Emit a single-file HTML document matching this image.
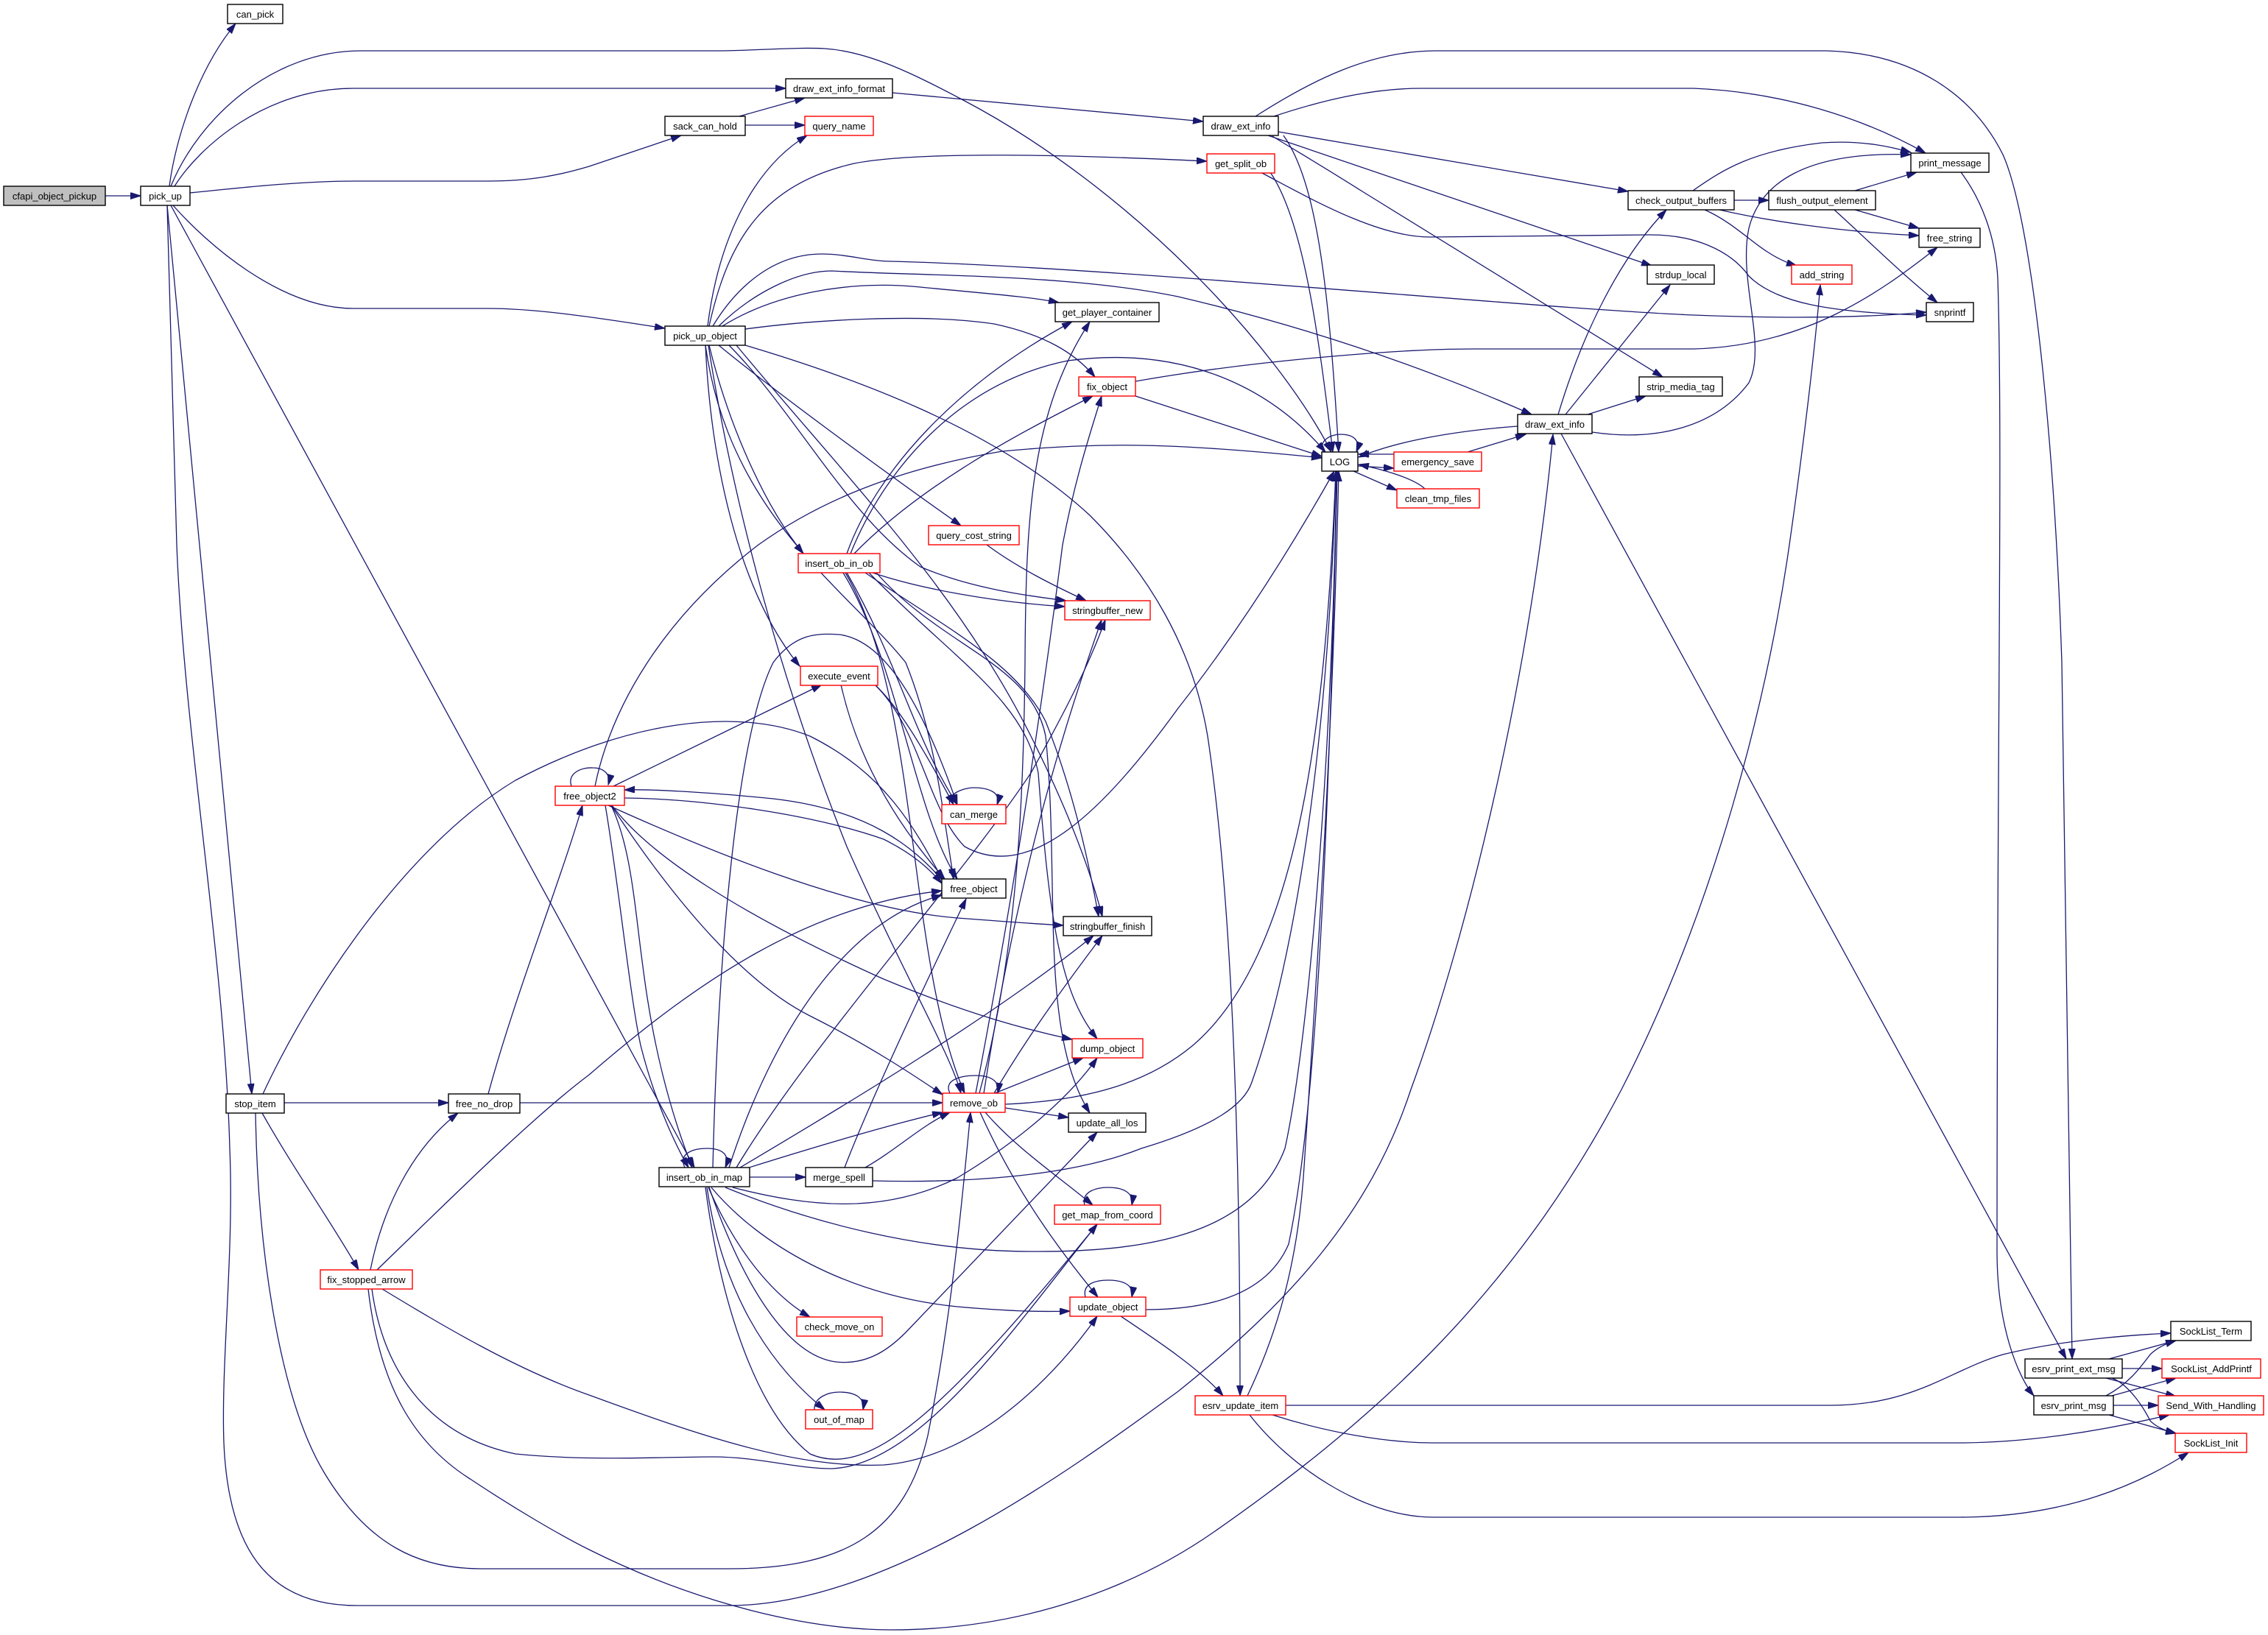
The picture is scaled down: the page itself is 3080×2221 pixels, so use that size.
<!DOCTYPE html>
<html>
<head>
<meta charset="utf-8">
<style>
html,body{margin:0;padding:0;background:#fff;}
svg{display:block;}
.n rect{fill:#fff;stroke:#000;stroke-width:1.4;}
.n.r rect{stroke:#ff0000;}
.n.g rect{fill:#bfbfbf;}
.n text{font-family:"Liberation Sans",Arial,sans-serif;font-size:13px;fill:#000;text-anchor:middle;}
.e path{fill:none;stroke:#191970;stroke-width:1.3;marker-end:url(#ah);}
</style>
</head>
<body>
<svg width="3080" height="2221" viewBox="0 0 3080 2221" xmlns="http://www.w3.org/2000/svg">
<defs>
<marker id="ah" markerUnits="userSpaceOnUse" markerWidth="15" markerHeight="10" refX="14" refY="4.5" orient="auto">
<path d="M0,0 L14,4.5 L0,9 z" fill="#191970" stroke="#191970" stroke-width="1"/>
</marker>
</defs>
<rect x="0" y="0" width="3080" height="2221" fill="#fff"/>
<g class="e">
<path d="M143,266 L191,266"/>
<path d="M230,253 C238,190 268,95 320,32"/>
<path d="M232,253 C270,160 370,69 490,69 L980,69 C1040,68 1080,64 1120,66 C1180,70 1240,100 1310,137 C1420,195 1530,280 1620,370 C1700,450 1770,540 1808,614"/>
<path d="M237,253 C270,200 360,120 480,120 L1067,120"/>
<path d="M258,262 C300,258 400,246 480,246 L663,246 C720,246 760,238 800,226 L925,184"/>
<path d="M235,279 C280,330 380,419 480,419 L663,419 C720,419 790,428 903,446"/>
<path d="M232,279 L943,1586"/>
<path d="M227,279 L342,1486"/>
<path d="M227,279 L240,740 C250,1000 305,1300 312,1560 C318,1700 300,1850 304,1960 C310,2100 360,2181 485,2181 L990,2181 C1200,2181 1450,2000 1600,1890 C1750,1770 1860,1650 1916,1480 C2000,1250 2080,900 2109,590"/>
<path d="M1012,170 L1093,170"/>
<path d="M1004,158 L1093,133"/>
<path d="M1212,126 L1634,165"/>
<path d="M961,443 C975,330 1020,230 1096,184"/>
<path d="M963,443 C990,320 1040,250 1160,222 C1250,205 1450,210 1639,219"/>
<path d="M968,443 C1000,390 1050,345 1116,345 C1150,345 1180,355 1210,355 C1500,362 2100,420 2300,428 C2450,434 2550,430 2616,424"/>
<path d="M976,443 C1020,400 1080,368 1130,368 C1250,375 1450,372 1600,403 C1800,450 1960,510 2080,563"/>
<path d="M981,443 C1050,400 1150,380 1250,390 C1330,398 1400,403 1438,411"/>
<path d="M1012,447 C1100,435 1250,425 1350,440 C1420,455 1460,480 1487,512"/>
<path d="M1012,469 C1150,510 1350,580 1480,700 C1560,780 1620,880 1640,1000 C1670,1200 1684,1500 1684,1896"/>
<path d="M976,469 C1050,530 1200,640 1305,714"/>
<path d="M963,469 C990,580 1040,690 1091,752"/>
<path d="M958,469 C965,620 1000,800 1086,905"/>
<path d="M958,469 C990,700 1150,800 1230,900 C1270,1000 1280,1100 1295,1194"/>
<path d="M962,469 C990,650 1050,900 1150,1150 C1230,1330 1290,1430 1305,1485"/>
<path d="M990,469 C1080,560 1150,700 1250,770 C1320,800 1400,810 1448,816"/>
<path d="M1000,469 C1150,650 1300,800 1400,1000 C1450,1100 1480,1180 1497,1245"/>
<path d="M1150,752 C1190,640 1300,520 1456,437"/>
<path d="M1160,752 C1250,660 1380,590 1484,538"/>
<path d="M1155,752 C1200,640 1300,520 1450,490 C1600,470 1720,520 1800,614"/>
<path d="M1185,778 C1250,800 1350,818 1446,824"/>
<path d="M1150,778 C1220,900 1240,1000 1300,1093"/>
<path d="M1145,778 C1220,900 1240,1100 1300,1194"/>
<path d="M1148,778 C1250,950 1230,1300 1310,1485"/>
<path d="M1190,778 C1280,880 1400,900 1420,1000 C1440,1200 1410,1400 1480,1512"/>
<path d="M1180,778 C1300,900 1390,950 1410,1050 C1425,1250 1440,1350 1490,1411"/>
<path d="M1175,778 C1280,850 1380,900 1420,980 C1460,1080 1480,1180 1492,1245"/>
<path d="M808,1068 C830,960 900,840 1030,740 C1100,690 1200,640 1361,613 C1500,600 1600,602 1795,622"/>
<path d="M833,1068 L1116,930"/>
<path d="M776,1068 C770,1050 790,1042 805,1043 C820,1043 830,1052 826,1066"/>
<path d="M848,1084 C950,1085 1100,1105 1200,1140 C1240,1160 1262,1180 1279,1200"/>
<path d="M1280,1196 C1240,1150 1180,1100 1050,1085 C950,1075 880,1072 848,1073"/>
<path d="M826,1094 C950,1150 1150,1235 1300,1247 C1380,1253 1420,1256 1444,1257"/>
<path d="M831,1094 C880,1160 1000,1240 1200,1330 C1320,1380 1400,1400 1456,1412"/>
<path d="M830,1094 C900,1200 1000,1330 1100,1380 C1180,1420 1240,1460 1280,1487"/>
<path d="M830,1094 C870,1180 860,1300 900,1460 C915,1520 930,1560 940,1586"/>
<path d="M822,1094 C840,1200 855,1350 870,1420 C890,1500 920,1560 935,1586"/>
<path d="M663,1486 C700,1350 760,1200 791,1094"/>
<path d="M503,1725 C520,1640 560,1560 622,1512"/>
<path d="M512,1725 C600,1640 720,1520 800,1460 C950,1330 1100,1230 1279,1210"/>
<path d="M519,1751 C600,1800 700,1860 800,1895 C950,1950 1080,1995 1200,1990 C1330,1980 1440,1860 1490,1788"/>
<path d="M505,1751 C520,1860 580,1950 700,1975 C800,1985 900,1979 968,1979 C1030,1979 1080,1995 1130,1995 C1250,1990 1380,1800 1490,1663"/>
<path d="M500,1751 C515,1880 560,1960 640,2010 C700,2050 760,2085 800,2105 C950,2180 1100,2214 1210,2214 C1400,2214 1550,2150 1650,2080 C1850,1940 2050,1770 2202,1480 C2330,1230 2400,950 2430,740 C2450,600 2465,470 2472,387"/>
<path d="M386,1498 L609,1498"/>
<path d="M356,1512 C400,1590 450,1660 487,1725"/>
<path d="M347,1512 C350,1700 380,1900 440,2000 C500,2100 570,2131 653,2131 L990,2131 C1150,2131 1230,2080 1260,1950 C1290,1800 1305,1650 1318,1511"/>
<path d="M357,1486 C420,1350 550,1150 700,1060 C850,980 1000,960 1100,1000 C1200,1050 1240,1120 1280,1195"/>
<path d="M706,1498 L1280,1498"/>
<path d="M930,1586 C920,1565 945,1560 960,1560 C980,1560 992,1568 985,1586"/>
<path d="M1018,1599 L1094,1599"/>
<path d="M1014,1587 C1100,1560 1200,1530 1280,1511"/>
<path d="M962,1613 C1000,1700 1050,1760 1100,1789"/>
<path d="M960,1613 C980,1750 1040,1850 1120,1915"/>
<path d="M966,1613 C1030,1690 1150,1760 1300,1775 C1380,1782 1420,1782 1453,1781"/>
<path d="M963,1613 C1000,1720 1060,1840 1135,1850 C1180,1855 1210,1830 1230,1810 L1490,1538"/>
<path d="M958,1613 C980,1780 1030,1920 1100,1975 C1180,2010 1280,1920 1490,1663"/>
<path d="M995,1613 C1100,1640 1200,1650 1300,1600 C1400,1540 1460,1480 1490,1437"/>
<path d="M985,1613 C1100,1660 1250,1700 1400,1700 C1550,1701 1700,1680 1745,1560 C1780,1400 1810,1000 1815,640"/>
<path d="M1000,1586 C1100,1420 1300,1200 1400,1050 C1450,960 1480,900 1501,842"/>
<path d="M1005,1586 C1150,1500 1350,1380 1485,1271"/>
<path d="M990,1586 C1050,1400 1150,1250 1279,1216"/>
<path d="M968,1586 C975,1300 1000,1000 1050,900 C1080,860 1110,860 1140,862 C1200,870 1250,950 1300,1093"/>
<path d="M1175,1586 C1220,1560 1250,1530 1290,1511"/>
<path d="M1147,1586 C1180,1500 1250,1350 1312,1221"/>
<path d="M1185,1604 C1300,1607 1450,1600 1550,1560 C1650,1530 1690,1500 1700,1470 C1760,1300 1805,1000 1814,640"/>
<path d="M1290,1485 C1280,1465 1310,1461 1325,1461 C1345,1461 1358,1468 1355,1485"/>
<path d="M1351,1485 L1471,1437"/>
<path d="M1365,1505 L1451,1518"/>
<path d="M1338,1511 C1380,1560 1440,1600 1484,1637"/>
<path d="M1331,1511 C1380,1620 1440,1700 1491,1762"/>
<path d="M1365,1500 C1480,1495 1560,1470 1620,1420 C1760,1300 1800,1000 1814,640"/>
<path d="M1336,1485 C1380,1200 1440,1000 1496,842"/>
<path d="M1350,1485 C1400,1400 1460,1320 1497,1271"/>
<path d="M1330,1485 C1380,1300 1390,1100 1392,900 C1393,700 1400,560 1480,437"/>
<path d="M1325,1485 C1370,1250 1410,1000 1443,740 C1460,650 1480,590 1496,538"/>
<path d="M1474,1762 C1469,1743 1490,1739 1505,1739 C1525,1739 1540,1745 1537,1762"/>
<path d="M1522,1788 C1570,1820 1630,1860 1661,1896"/>
<path d="M1556,1779 C1640,1779 1720,1760 1750,1690 C1790,1500 1805,1100 1816,640"/>
<path d="M1694,1896 C1730,1820 1760,1730 1770,1600 C1790,1300 1810,1000 1818,640"/>
<path d="M1746,1909 L2486,1909 C2600,1909 2650,1860 2720,1840 C2800,1820 2900,1813 2948,1811"/>
<path d="M1728,1922 C1800,1945 1880,1960 1947,1960 L2660,1960 C2750,1960 2850,1945 2946,1922"/>
<path d="M1697,1922 C1750,1990 1850,2061 1947,2061 L2660,2061 C2800,2061 2900,2020 2972,1973"/>
<path d="M1797,614 C1790,598 1808,590 1820,590 C1838,590 1848,598 1842,614"/>
<path d="M1893,617 L1845,617"/>
<path d="M1844,633 L1893,636"/>
<path d="M1838,640 L1897,666"/>
<path d="M1935,664 C1920,650 1880,638 1845,631"/>
<path d="M1993,614 L2072,590"/>
<path d="M2061,579 C1980,585 1900,598 1845,621"/>
<path d="M2116,563 C2150,450 2200,350 2263,285"/>
<path d="M2126,563 L2268,387"/>
<path d="M2156,563 L2235,538"/>
<path d="M2162,587 C2250,600 2330,580 2375,520 C2400,470 2360,380 2375,310 C2390,250 2450,205 2595,210"/>
<path d="M2120,589 L2806,1846"/>
<path d="M1730,158 C1790,138 1860,120 1930,120 L2300,120 C2420,125 2530,160 2615,208"/>
<path d="M1705,158 C1780,110 1860,69 1950,69 L2480,69 C2600,72 2680,130 2720,210 C2760,300 2790,600 2800,900 L2814,1846"/>
<path d="M1736,179 L2211,260"/>
<path d="M1722,184 L2243,361"/>
<path d="M1728,185 C1760,205 1790,222 1850,260 L2258,512"/>
<path d="M1743,184 C1790,250 1805,400 1818,614"/>
<path d="M1725,234 C1770,300 1790,450 1810,614"/>
<path d="M1712,234 C1780,270 1870,322 1942,322 L2238,319 C2300,318 2350,340 2375,375 C2410,410 2480,425 2616,428"/>
<path d="M2355,272 L2402,272"/>
<path d="M2299,259 C2340,230 2380,205 2474,194 C2530,190 2570,200 2595,207"/>
<path d="M2335,285 C2400,300 2500,315 2606,320"/>
<path d="M2315,285 C2350,300 2380,330 2400,342 C2415,352 2430,358 2440,361"/>
<path d="M2519,259 L2603,234"/>
<path d="M2519,285 L2606,310"/>
<path d="M2491,285 C2530,320 2580,370 2631,411"/>
<path d="M2663,234 C2690,270 2710,320 2713,378 C2720,600 2712,1000 2712,1700 C2712,1800 2740,1870 2762,1896"/>
<path d="M1542,518 C1700,490 1900,474 2000,474 L2300,474 C2450,470 2550,400 2631,336"/>
<path d="M1542,538 C1640,570 1720,595 1795,620"/>
<path d="M1340,740 C1380,770 1430,795 1475,816"/>
<path d="M1290,1093 C1285,1078 1310,1070 1322,1070 C1340,1070 1360,1075 1354,1093"/>
<path d="M1473,1637 C1468,1618 1490,1613 1505,1613 C1525,1613 1540,1620 1537,1637"/>
<path d="M1106,1915 C1105,1898 1125,1891 1140,1891 C1160,1891 1175,1898 1172,1915"/>
<path d="M1142,930 C1160,1010 1200,1100 1283,1194"/>
<path d="M1188,930 C1220,960 1250,1010 1295,1093"/>
<path d="M1188,930 C1250,990 1260,1100 1310,1150 C1400,1200 1500,1100 1600,962 C1680,860 1750,750 1812,640"/>
<path d="M2864,1846 L2955,1821"/>
<path d="M2882,1859 L2936,1859"/>
<path d="M2860,1872 L2955,1897"/>
<path d="M2868,1872 C2890,1880 2910,1910 2920,1930 C2930,1940 2945,1945 2955,1947"/>
<path d="M2860,1896 C2890,1880 2905,1860 2920,1840 C2930,1830 2945,1824 2955,1821"/>
<path d="M2868,1896 L2955,1872"/>
<path d="M2870,1909 L2931,1909"/>
<path d="M2864,1922 L2955,1947"/>
</g>

<g class="n g"><rect x="5" y="253" width="138" height="26"/><text x="74" y="271">cfapi_object_pickup</text></g>
<g class="n"><rect x="191" y="253" width="67" height="26"/><text x="224.5" y="271">pick_up</text></g>
<g class="n"><rect x="309" y="6" width="75" height="26"/><text x="346.5" y="24">can_pick</text></g>
<g class="n"><rect x="1067" y="107" width="145" height="26"/><text x="1139.5" y="125">draw_ext_info_format</text></g>
<g class="n"><rect x="903" y="158" width="109" height="26"/><text x="957.5" y="176">sack_can_hold</text></g>
<g class="n r"><rect x="1093" y="158" width="93" height="26"/><text x="1139.5" y="176">query_name</text></g>
<g class="n"><rect x="1634" y="158" width="102" height="26"/><text x="1685" y="176">draw_ext_info</text></g>
<g class="n r"><rect x="1639" y="209" width="92" height="26"/><text x="1685" y="227">get_split_ob</text></g>
<g class="n"><rect x="903" y="443" width="109" height="26"/><text x="957.5" y="461">pick_up_object</text></g>
<g class="n"><rect x="1433" y="411" width="141" height="26"/><text x="1503.5" y="429">get_player_container</text></g>
<g class="n r"><rect x="1465" y="512" width="77" height="26"/><text x="1503.5" y="530">fix_object</text></g>
<g class="n r"><rect x="1261" y="714" width="123" height="26"/><text x="1322.5" y="732">query_cost_string</text></g>
<g class="n"><rect x="2211" y="259" width="144" height="26"/><text x="2283" y="277">check_output_buffers</text></g>
<g class="n"><rect x="2237" y="360" width="91" height="26"/><text x="2282.5" y="378">strdup_local</text></g>
<g class="n"><rect x="2226" y="512" width="113" height="26"/><text x="2282.5" y="530">strip_media_tag</text></g>
<g class="n"><rect x="2061" y="563" width="101" height="26"/><text x="2111.5" y="581">draw_ext_info</text></g>
<g class="n"><rect x="1795" y="614" width="49" height="26"/><text x="1819.5" y="632">LOG</text></g>
<g class="n r"><rect x="1893" y="614" width="119" height="26"/><text x="1952.5" y="632">emergency_save</text></g>
<g class="n r"><rect x="1897" y="664" width="112" height="26"/><text x="1953" y="682">clean_tmp_files</text></g>
<g class="n"><rect x="2402" y="259" width="145" height="26"/><text x="2474.5" y="277">flush_output_element</text></g>
<g class="n"><rect x="2595" y="208" width="106" height="26"/><text x="2648" y="226">print_message</text></g>
<g class="n"><rect x="2606" y="310" width="83" height="26"/><text x="2647.5" y="328">free_string</text></g>
<g class="n"><rect x="2616" y="411" width="64" height="26"/><text x="2648" y="429">snprintf</text></g>
<g class="n r"><rect x="2433" y="360" width="82" height="26"/><text x="2474" y="378">add_string</text></g>
<g class="n r"><rect x="1084" y="752" width="111" height="26"/><text x="1139.5" y="770">insert_ob_in_ob</text></g>
<g class="n r"><rect x="1087" y="905" width="105" height="26"/><text x="1139.5" y="923">execute_event</text></g>
<g class="n r"><rect x="1446" y="816" width="116" height="26"/><text x="1504" y="834">stringbuffer_new</text></g>
<g class="n r"><rect x="1279" y="1093" width="87" height="26"/><text x="1322.5" y="1111">can_merge</text></g>
<g class="n"><rect x="1279" y="1194" width="87" height="26"/><text x="1322.5" y="1212">free_object</text></g>
<g class="n"><rect x="1444" y="1245" width="120" height="26"/><text x="1504" y="1263">stringbuffer_finish</text></g>
<g class="n r"><rect x="1456" y="1411" width="96" height="26"/><text x="1504" y="1429">dump_object</text></g>
<g class="n r"><rect x="754" y="1068" width="94" height="26"/><text x="801" y="1086">free_object2</text></g>
<g class="n r"><rect x="1280" y="1485" width="85" height="26"/><text x="1322.5" y="1503">remove_ob</text></g>
<g class="n"><rect x="1451" y="1512" width="105" height="26"/><text x="1503.5" y="1530">update_all_los</text></g>
<g class="n"><rect x="307" y="1486" width="79" height="26"/><text x="346.5" y="1504">stop_item</text></g>
<g class="n"><rect x="609" y="1486" width="97" height="26"/><text x="657.5" y="1504">free_no_drop</text></g>
<g class="n"><rect x="895" y="1586" width="123" height="26"/><text x="956.5" y="1604">insert_ob_in_map</text></g>
<g class="n"><rect x="1094" y="1586" width="91" height="26"/><text x="1139.5" y="1604">merge_spell</text></g>
<g class="n r"><rect x="1432" y="1637" width="144" height="26"/><text x="1504" y="1655">get_map_from_coord</text></g>
<g class="n r"><rect x="435" y="1725" width="125" height="26"/><text x="497.5" y="1743">fix_stopped_arrow</text></g>
<g class="n r"><rect x="1453" y="1762" width="103" height="26"/><text x="1504.5" y="1780">update_object</text></g>
<g class="n r"><rect x="1082" y="1789" width="116" height="26"/><text x="1140" y="1807">check_move_on</text></g>
<g class="n r"><rect x="1094" y="1915" width="91" height="26"/><text x="1139.5" y="1933">out_of_map</text></g>
<g class="n r"><rect x="1623" y="1896" width="123" height="26"/><text x="1684.5" y="1914">esrv_update_item</text></g>
<g class="n"><rect x="2750" y="1846" width="132" height="26"/><text x="2816" y="1864">esrv_print_ext_msg</text></g>
<g class="n"><rect x="2762" y="1896" width="108" height="26"/><text x="2816" y="1914">esrv_print_msg</text></g>
<g class="n"><rect x="2948" y="1795" width="109" height="26"/><text x="3002.5" y="1813">SockList_Term</text></g>
<g class="n r"><rect x="2936" y="1846" width="134" height="26"/><text x="3003" y="1864">SockList_AddPrintf</text></g>
<g class="n r"><rect x="2931" y="1896" width="143" height="26"/><text x="3002.5" y="1914">Send_With_Handling</text></g>
<g class="n r"><rect x="2954" y="1947" width="97" height="26"/><text x="3002.5" y="1965">SockList_Init</text></g>
</svg>
</body>
</html>
